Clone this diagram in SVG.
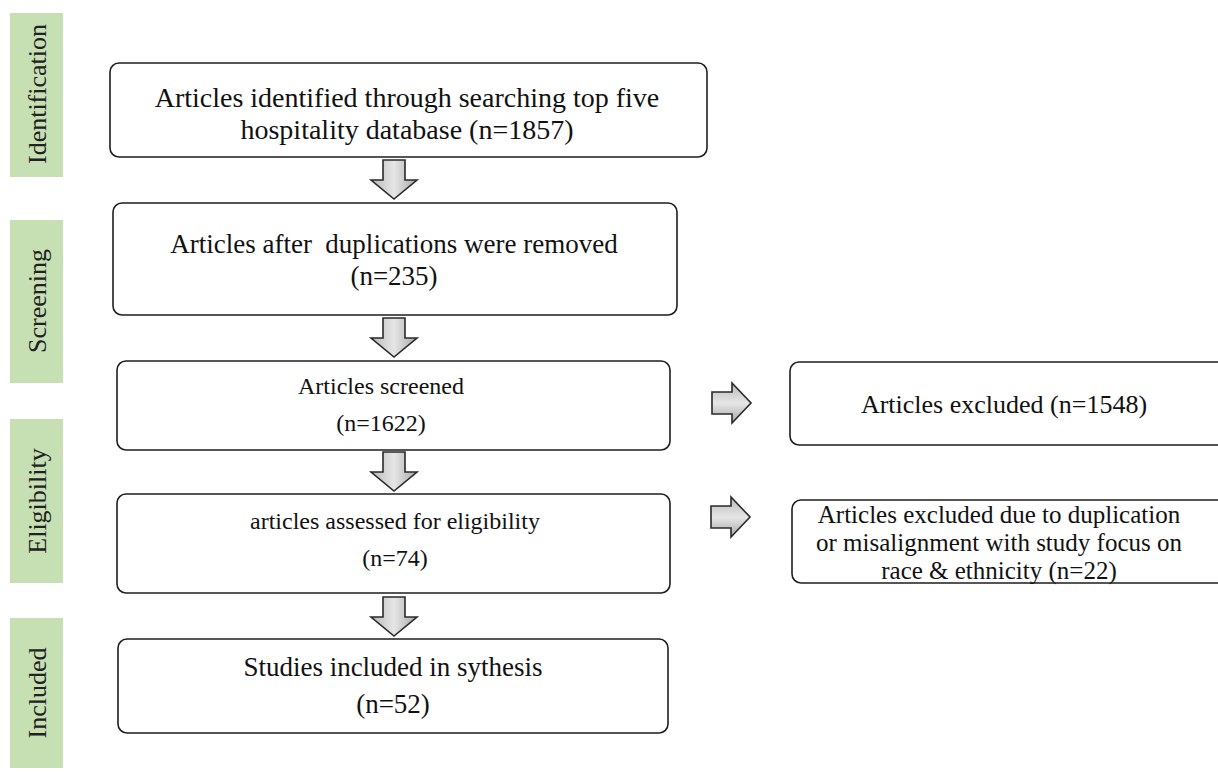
<svg xmlns="http://www.w3.org/2000/svg" width="1218" height="772" viewBox="0 0 1218 772">
<defs>
<linearGradient id="gd" x1="0" y1="0" x2="1" y2="0">
<stop offset="0" stop-color="#b8b8b8"/><stop offset="0.5" stop-color="#e6e6e6"/><stop offset="1" stop-color="#a8a8a8"/>
</linearGradient>
<linearGradient id="gr" x1="0" y1="0" x2="0" y2="1">
<stop offset="0" stop-color="#b8b8b8"/><stop offset="0.5" stop-color="#e6e6e6"/><stop offset="1" stop-color="#a8a8a8"/>
</linearGradient>
<path id="darr" d="M-11,0 H11 V20 H23 L0,39 L-23,20 H-11 Z"/>
<path id="rarr" d="M0,-11 V11 H20 V20 L39,0 L20,-20 V-11 Z"/>
</defs>
<style>
.bar{fill:#c6e0b4}
.side{font-family:"Liberation Serif","Times New Roman",serif;font-size:26px;fill:#222;text-anchor:middle;dominant-baseline:central}
.box{fill:#fff;stroke:#1e1e1e;stroke-width:1.6}
.t{font-family:"Liberation Serif","Times New Roman",serif;font-size:24px;fill:#111;text-anchor:middle;dominant-baseline:central}
.arr{stroke:#2a2a2a;stroke-width:1.6;stroke-linejoin:miter}
</style>
<rect width="1218" height="772" fill="#fff"/>
<g id="stage-identification"><rect class="bar" x="10" y="13" width="53" height="164"/><text class="side" transform="translate(37,94) rotate(-90)">Identification</text></g>
<g id="stage-screening"><rect class="bar" x="10" y="220" width="53" height="163"/><text class="side" transform="translate(37,301) rotate(-90)">Screening</text></g>
<g id="stage-eligibility"><rect class="bar" x="10" y="419" width="53" height="164"/><text class="side" transform="translate(37,501) rotate(-90)">Eligibility</text></g>
<g id="stage-included"><rect class="bar" x="10" y="618" width="53" height="150"/><text class="side" transform="translate(37,693) rotate(-90)">Included</text></g>

<g id="n1"><rect class="box" x="110" y="63" width="597" height="94" rx="9"/><text class="t" style="font-size:28px" x="407" y="97">Articles identified through searching top five</text><text class="t" style="font-size:28px" x="407" y="129">hospitality database (n=1857)</text></g>
<g id="n2"><rect class="box" x="113" y="203" width="564" height="112" rx="9"/><text class="t" style="font-size:27px" x="394" y="244" xml:space="preserve">Articles after  duplications were removed</text><text class="t" style="font-size:27px" x="394" y="276">(n=235)</text></g>
<g id="n3"><rect class="box" x="117" y="361" width="553" height="89" rx="9"/><text class="t" x="381" y="386">Articles screened</text><text class="t" x="381" y="423">(n=1622)</text></g>
<g id="n4"><rect class="box" x="790" y="362" width="440" height="83" rx="9"/><text class="t" style="font-size:26px" x="1004" y="404">Articles excluded (n=1548)</text></g>
<g id="n5"><rect class="box" x="117" y="494" width="553" height="99" rx="9"/><text class="t" x="395" y="521">articles assessed for eligibility</text><text class="t" x="395" y="558">(n=74)</text></g>
<g id="n6"><rect class="box" x="792" y="500" width="440" height="83" rx="9"/><text class="t" style="font-size:25px" x="999" y="514">Articles excluded due to duplication</text><text class="t" style="font-size:25px" x="999" y="542">or misalignment with study focus on</text><text class="t" style="font-size:25px" x="999" y="570">race &amp; ethnicity (n=22)</text></g>
<g id="n7"><rect class="box" x="118" y="639" width="550" height="94" rx="9"/><text class="t" style="font-size:27px" x="393" y="667">Studies included in sythesis</text><text class="t" style="font-size:27px" x="393" y="704">(n=52)</text></g>

<g id="connectors">
<use href="#darr" class="arr" fill="url(#gd)" x="394" y="160"/>
<use href="#darr" class="arr" fill="url(#gd)" x="394" y="318"/>
<use href="#darr" class="arr" fill="url(#gd)" x="394" y="452"/>
<use href="#darr" class="arr" fill="url(#gd)" x="394" y="597"/>
<use href="#rarr" class="arr" fill="url(#gr)" x="712" y="403"/>
<use href="#rarr" class="arr" fill="url(#gr)" x="711" y="517"/>
</g>
</svg>
